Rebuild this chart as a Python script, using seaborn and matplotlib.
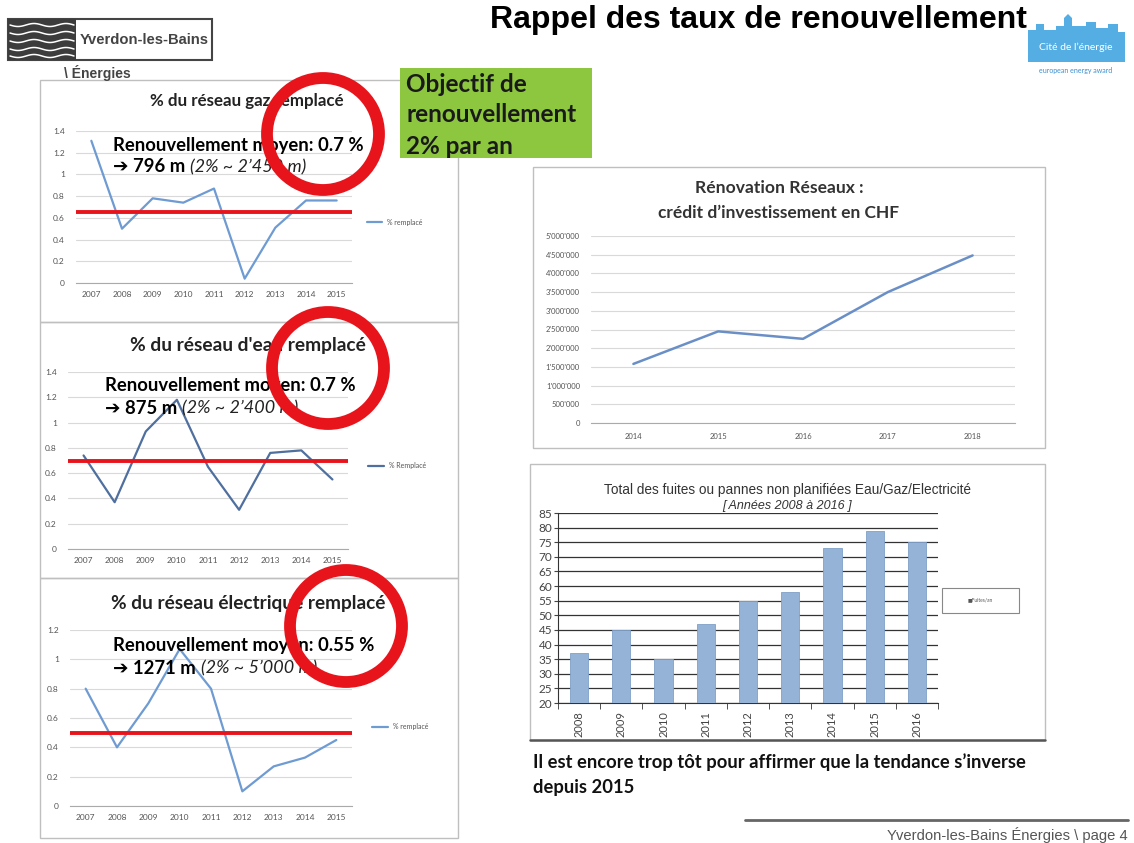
import numpy as np
import pandas as pd
import seaborn as sns
import matplotlib.pyplot as plt
from matplotlib.patches import Rectangle, Circle, Polygon
from matplotlib.ticker import FuncFormatter, MultipleLocator

# ---- data ----
years_left = [2007, 2008, 2009, 2010, 2011, 2012, 2013, 2014, 2015]
gaz = [1.31, 0.50, 0.78, 0.74, 0.87, 0.04, 0.51, 0.76, 0.76]
eau = [0.74, 0.37, 0.93, 1.18, 0.65, 0.31, 0.76, 0.78, 0.55]
elec = [0.80, 0.40, 0.70, 1.07, 0.80, 0.10, 0.27, 0.33, 0.45]
moy_gaz, moy_eau, moy_elec = 0.65, 0.70, 0.50

years_credit = [2014, 2015, 2016, 2017, 2018]
credit = [1580000, 2450000, 2250000, 3500000, 4480000]

years_fuites = ['2008', '2009', '2010', '2011', '2012', '2013', '2014', '2015', '2016']
fuites = [37, 45, 35, 47, 55, 58, 73, 79, 75]

W, H = 1134, 843

sns.set_style('white')
plt.rcParams['font.family'] = ['Lato', 'DejaVu Sans']
ARIAL = ['Liberation Sans', 'DejaVu Sans']

fig = plt.figure(figsize=(W / 100, H / 100), dpi=100)
fig.patch.set_facecolor('white')


def px(x0, y0, x1, y1):
    return [x0 / W, 1 - y1 / H, (x1 - x0) / W, (y1 - y0) / H]


def excel_line(rect, yrs, vals, moy, ymax, color, leg, legpos):
    ax = fig.add_axes(px(*rect))
    df = pd.DataFrame({'annee': yrs, 'val': vals})
    sns.lineplot(data=df, x='annee', y='val', ax=ax, color=color, lw=1.6, label=leg)
    ax.axhline(moy, color='#e8141c', lw=2.8, zorder=5)
    ax.set_xlim(yrs[0] - 0.5, yrs[-1] + 0.5)
    ax.set_ylim(0, ymax)
    ax.yaxis.set_major_locator(MultipleLocator(0.2))
    ax.yaxis.set_major_formatter(FuncFormatter(lambda v, p: ('%g' % round(v, 1))))
    ax.set_xticks(yrs)
    ax.set_xticks(np.arange(yrs[0] - 0.5, yrs[-1] + 1, 1), minor=True)
    ax.tick_params(axis='x', which='major', length=0, labelsize=6, colors='#555555', pad=6)
    ax.tick_params(axis='x', which='minor', length=3, color='#aaaaaa')
    ax.tick_params(axis='y', labelsize=6, colors='#555555', length=0, pad=8)
    ax.grid(axis='y', color='#d9d9d9', lw=0.8)
    for s in ['top', 'right', 'left']:
        ax.spines[s].set_visible(False)
    ax.spines['bottom'].set_color('#aaaaaa')
    ax.set_xlabel('')
    ax.set_ylabel('')
    ax.legend(loc='center left', bbox_to_anchor=legpos, frameon=False, fontsize=5,
              handlelength=2.2, labelcolor='#555555')
    return ax


excel_line((76, 131, 352, 283), years_left, gaz, moy_gaz, 1.4, '#6f9bd3', '% remplacé', (1.03, 0.4))
excel_line((68, 372, 348, 549), years_left, eau, moy_eau, 1.4, '#4f6f9f', '% Remplacé', (1.05, 0.47))
excel_line((70, 630, 352, 806), years_left, elec, moy_elec, 1.2, '#6f9bd3', '% remplacé', (1.05, 0.45))

# ---- crédit d'investissement ----
ax4 = fig.add_axes(px(591, 236, 1015, 423))
dfc = pd.DataFrame({'annee': years_credit, 'credit': credit})
sns.lineplot(data=dfc, x='annee', y='credit', ax=ax4, color='#6a8fc7', lw=1.8)
ax4.set_xlim(2013.5, 2018.5)
ax4.set_ylim(0, 5000000)
ax4.yaxis.set_major_locator(MultipleLocator(500000))
ax4.yaxis.set_major_formatter(FuncFormatter(lambda v, p: '{:,.0f}'.format(v).replace(',', "'")))
ax4.set_xticks(years_credit)
ax4.set_xticks(np.arange(2013.5, 2019, 1), minor=True)
ax4.tick_params(axis='x', which='major', length=0, labelsize=5.5, colors='#555555', pad=7)
ax4.tick_params(axis='x', which='minor', length=3, color='#aaaaaa')
ax4.tick_params(axis='y', labelsize=5.5, colors='#555555', length=0, pad=8)
ax4.grid(axis='y', color='#d9d9d9', lw=0.8)
for s in ['top', 'right', 'left']:
    ax4.spines[s].set_visible(False)
ax4.spines['bottom'].set_color('#aaaaaa')
ax4.set_xlabel('')
ax4.set_ylabel('')

# ---- fuites ----
ax5 = fig.add_axes(px(558, 513, 938, 703))
dff = pd.DataFrame({'annee': years_fuites, 'fuites': fuites})
sns.barplot(data=dff, x='annee', y='fuites', ax=ax5, color='#95b3d7', width=0.43,
            edgecolor='#7f9fc8', linewidth=0.6, saturation=1, zorder=3)
ax5.set_ylim(20, 85)
ax5.yaxis.set_major_locator(MultipleLocator(5))
ax5.grid(axis='y', color='#333333', lw=0.9, zorder=0)
ax5.set_axisbelow(True)
ax5.tick_params(axis='x', labelrotation=90, labelsize=8, colors='#444444', length=0, pad=6)
ax5.tick_params(axis='y', labelsize=8.5, colors='#444444', length=3, pad=1, left=True)
ax5.set_xticks(np.arange(-0.5, 9, 1), minor=True)
ax5.tick_params(axis='x', which='minor', length=4, color='#333333', bottom=True)
for s in ['top', 'right']:
    ax5.spines[s].set_visible(False)
ax5.spines['left'].set_color('#333333')
ax5.spines['bottom'].set_color('#333333')
ax5.set_xlabel('')
ax5.set_ylabel('')

# ---- overlay in pixel coordinates ----
ov = fig.add_axes([0, 0, 1, 1])
ov.set_xlim(0, W)
ov.set_ylim(H, 0)
ov.axis('off')
ov.patch.set_alpha(0)

# panel frames
for (x0, y0, x1, y1) in [(40, 80, 458, 322), (40, 322, 458, 578), (40, 578, 458, 838),
                         (533, 167, 1045, 448), (530, 464, 1045, 740)]:
    ov.add_patch(Rectangle((x0, y0), x1 - x0, y1 - y0, fill=False, ec='#bfbfbf', lw=1))
ov.plot([530, 1045], [740, 740], color='#555555', lw=1.8)

# panel titles
ov.text(247, 101, '% du réseau gaz remplacé', ha='center', va='center', fontsize=12.2, fontweight='bold', color='#222222')
ov.text(248, 346, "% du réseau d'eau remplacé", ha='center', va='center', fontsize=13.8, fontweight='bold', color='#222222')
ov.text(248, 604, '% du réseau électrique remplacé', ha='center', va='center', fontsize=13.7, fontweight='bold', color='#222222')
ov.text(779, 188, 'Rénovation Réseaux :', ha='center', va='center', fontsize=12.6, fontweight='bold', color='#333333')
ov.text(779, 213, 'crédit d’investissement en CHF', ha='center', va='center', fontsize=12.5, fontweight='bold', color='#333333')
ov.text(787, 490, 'Total des fuites ou pannes non planifiées Eau/Gaz/Electricité', ha='center', va='center',
        fontsize=9.8, color='#333333', family=ARIAL)
ov.text(787, 506, '[ Années 2008 à 2016 ]', ha='center', va='center', fontsize=9, style='italic',
        color='#333333', family=ARIAL)

# legend box of the bar chart
ov.add_patch(Rectangle((942, 588), 77, 25, fill=False, ec='#888888', lw=0.8))
ov.text(980, 600, '■Fuites/an', ha='center', va='center', fontsize=3.5, color='#555555')

# annotations in the left charts
fig.canvas.draw()
renderer = fig.canvas.get_renderer()
notes = [(113, 145, 'Renouvellement moyen: 0.7 %', '➔ 796 m', '(2% ~ 2’450 m)'),
         (105, 386, 'Renouvellement moyen: 0.7 %', '➔ 875 m', '(2% ~ 2’400 m)'),
         (113, 646, 'Renouvellement moyen: 0.55 %', '➔ 1271 m', '(2% ~ 5’000 m)')]
for x, y, l1, l2, l3 in notes:
    ov.text(x, y, l1, ha='left', va='center', fontsize=13.3, fontweight='bold', color='black')
    t = ov.text(x, y + 22, l2, ha='left', va='center', fontsize=13.3, fontweight='bold', color='black')
    bb = t.get_window_extent(renderer=renderer)
    ov.text(bb.x1 + 5, y + 22, l3, ha='left', va='center', fontsize=13, style='italic', color='#222222')

# red circles
for cx, cy in [(323, 134), (328, 368), (346, 626)]:
    ov.add_patch(Circle((cx, cy), 56, fill=False, ec='#e8141c', lw=8.5, zorder=10))

# green objective box
ov.add_patch(Rectangle((400, 68), 192, 90, fc='#8dc63f', ec='none', zorder=11))
for i, line in enumerate(['Objectif de', 'renouvellement', '2% par an']):
    ov.text(406, 84 + i * 31, line, ha='left', va='center', fontsize=17.5, fontweight='bold',
            color='#1a1a1a', zorder=12)

# main title
ov.text(758, 20, 'Rappel des taux de renouvellement', ha='center', va='center', fontsize=23,
        fontweight='bold', color='black', family=ARIAL)

# Yverdon logo
ov.add_patch(Rectangle((8, 19), 204, 41, fill=False, ec='#444444', lw=1.5))
ov.add_patch(Rectangle((8, 19), 68, 41, fc='#3c3c3c', ec='none'))
xs = np.linspace(10, 74, 60)
for yy in [25, 33, 41, 49, 56]:
    ov.plot(xs, yy + 1.5 * np.sin((xs - 10) / 64 * 4 * np.pi), color='white', lw=1.1)
ov.text(80, 40, 'Yverdon-les-Bains', ha='left', va='center', fontsize=10.6, fontweight='bold',
        color='#444444', family=ARIAL)
ov.text(64, 73, '\\ Énergies', ha='left', va='center', fontsize=10, fontweight='bold',
        color='#444444', family=ARIAL)

# Cité de l'énergie logo
sky = [(1028, 62), (1028, 30), (1036, 30), (1036, 24), (1044, 24), (1044, 30), (1056, 30),
       (1056, 26), (1064, 26), (1064, 18), (1068, 14), (1072, 18), (1072, 26), (1086, 26),
       (1086, 22), (1096, 22), (1096, 28), (1108, 28), (1108, 24), (1118, 24), (1118, 32),
       (1125, 32), (1125, 62)]
ov.add_patch(Polygon(sky, closed=True, fc='#55aee3', ec='none'))
ov.text(1076, 47, 'Cité de l’énergie', ha='center', va='center', fontsize=7.5, color='white')
ov.text(1076, 70, 'european energy award', ha='center', va='center', fontsize=5, color='#3a8fd0')

# bottom remark
ov.text(533, 762, 'Il est encore trop tôt pour affirmer que la tendance s’inverse', ha='left', va='center',
        fontsize=13.2, fontweight='bold', color='#111111')
ov.text(533, 787, 'depuis 2015', ha='left', va='center', fontsize=13.2, fontweight='bold', color='#111111')

# footer
ov.plot([745, 1128], [820, 820], color='#666666', lw=2)
ov.text(1128, 835, 'Yverdon-les-Bains Énergies \\ page 4', ha='right', va='center', fontsize=10.6,
        color='#555555', family=ARIAL)

fig.savefig('out.png', dpi=100)
